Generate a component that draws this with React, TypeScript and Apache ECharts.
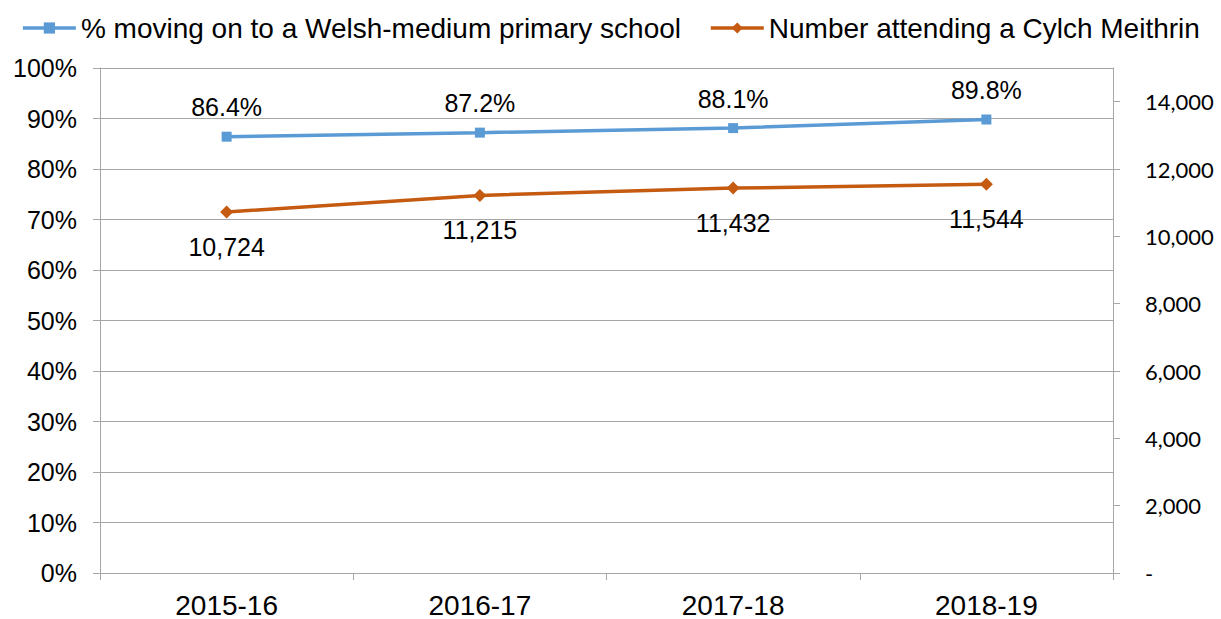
import React, { useEffect, useRef } from "react";
import * as echarts from "echarts";

const categories = ["2015-16", "2016-17", "2017-18", "2018-19"];
const pctMovingOn = [86.4, 87.2, 88.1, 89.8];
const cylchNumbers = [10724, 11215, 11432, 11544];
const rightTicks = [0, 2000, 4000, 6000, 8000, 10000, 12000, 14000];
const seriesNames = [
  "% moving on to a Welsh-medium primary school",
  "Number attending a Cylch Meithrin",
];

const FONT = "'Liberation Sans', Arial, sans-serif";
const GREY = "#A6A6A6";
const BLUE = "#5B9BD5";
const ORANGE = "#C55A11";

export default function App() {
  const ref = useRef<HTMLDivElement>(null);
  useEffect(() => {
    const chart = echarts.init(ref.current!, null, { renderer: "svg" });
    chart.setOption({
      animation: false,
      legend: {
        top: 9,
        left: "center",
        itemWidth: 53,
        itemHeight: 14,
        itemGap: 28,
        lineStyle: { width: 3.5 },
        textStyle: { fontFamily: FONT, fontSize: 28, color: "#000" },
        data: seriesNames,
      },
      grid: { left: 100, right: 108, top: 68, bottom: 44 },
      xAxis: {
        type: "category",
        data: categories,
        boundaryGap: true,
        axisLine: { show: true, lineStyle: { color: GREY, width: 1 } },
        axisTick: { show: true, length: 7, lineStyle: { color: GREY } },
        axisLabel: { fontFamily: FONT, fontSize: 28, color: "#000", margin: 18 },
      },
      yAxis: [
        {
          type: "value",
          min: 0,
          max: 100,
          interval: 10,
          position: "left",
          axisLine: { show: true, lineStyle: { color: GREY } },
          axisTick: { show: true, length: 7, lineStyle: { color: GREY } },
          splitLine: { show: true, lineStyle: { color: GREY, width: 1 } },
          axisLabel: {
            formatter: "{value}%",
            fontFamily: FONT,
            fontSize: 25,
            color: "#000",
            margin: 23,
          },
        },
        {
          type: "value",
          min: 0,
          max: 15000,
          interval: 2000,
          position: "right",
          axisLine: { show: true, lineStyle: { color: GREY } },
          axisTick: {
            show: true,
            length: 7,
            lineStyle: { color: GREY },
            customValues: rightTicks,
          },
          splitLine: { show: false },
          axisLabel: {
            customValues: rightTicks,
            formatter: (v: number) => (v === 0 ? "-" : v.toLocaleString("en-US")),
            fontFamily: "Lato, sans-serif",
            fontSize: 22,
            color: "#000",
            margin: 32,
            align: "left",
          },
        },
      ],
      series: [
        {
          name: seriesNames[0],
          type: "line",
          yAxisIndex: 0,
          data: pctMovingOn,
          symbol: "rect",
          symbolSize: 10,
          color: BLUE,
          lineStyle: { color: BLUE, width: 3.5 },
          itemStyle: { color: BLUE },
          label: {
            show: true,
            position: "top",
            distance: 12,
            formatter: (p: any) => `${Number(p.value).toFixed(1)}%`,
            fontFamily: FONT,
            fontSize: 25,
            color: "#000",
          },
        },
        {
          name: seriesNames[1],
          type: "line",
          yAxisIndex: 1,
          data: cylchNumbers,
          symbol: "diamond",
          symbolSize: 13,
          color: ORANGE,
          lineStyle: { color: ORANGE, width: 3.5 },
          itemStyle: { color: ORANGE },
          label: {
            show: true,
            position: "bottom",
            distance: 16,
            formatter: (p: any) => Number(p.value).toLocaleString("en-US"),
            fontFamily: FONT,
            fontSize: 25,
            color: "#000",
          },
        },
      ],
    });
    return () => chart.dispose();
  }, []);
  return (
    <div
      ref={ref}
      style={{ position: "fixed", left: 0, top: 0, width: 1221, height: 619, background: "#fff" }}
    />
  );
}
